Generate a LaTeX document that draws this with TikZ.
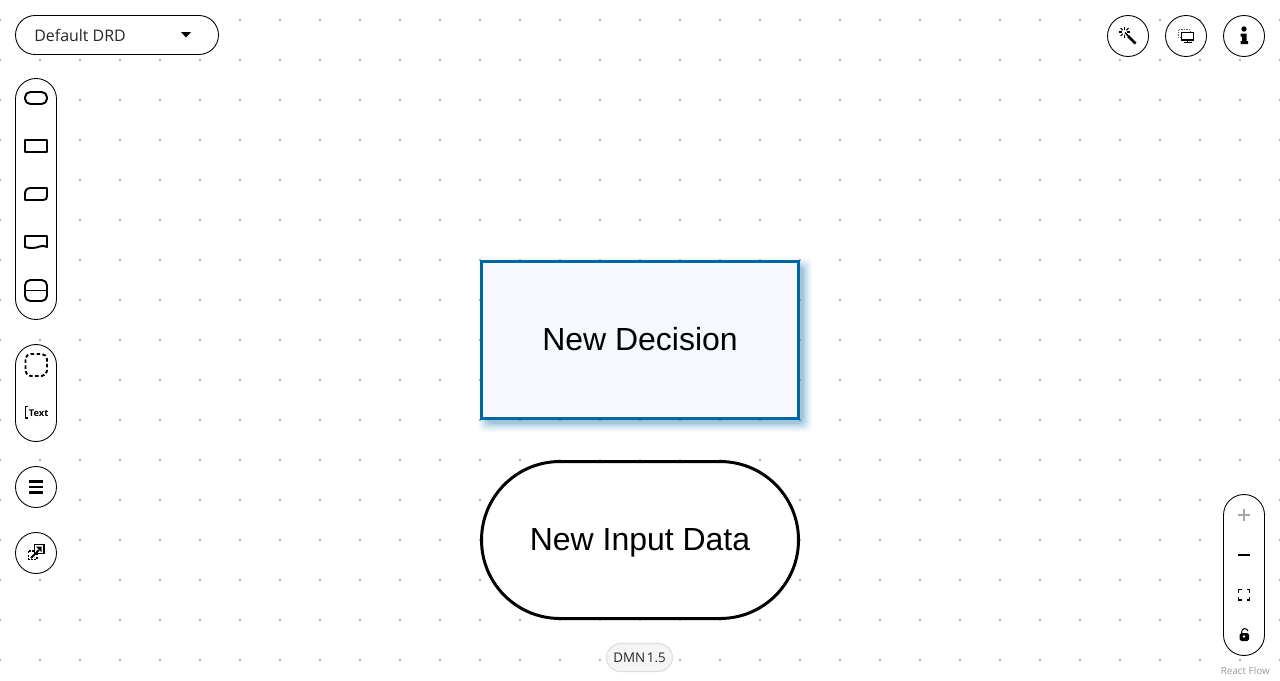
\documentclass[tikz,border=0pt]{standalone}
\usepackage{fontspec}
\setmainfont{Liberation Sans}
\newfontfamily\uifont{Open Sans}
\definecolor{griddot}{HTML}{A0A0A0}
\definecolor{decisionblue}{HTML}{0066A1}
\definecolor{decisionfill}{HTML}{F5F8FC}
\definecolor{pillline}{HTML}{DDDDDD}
\definecolor{pillfill}{HTML}{F5F5F5}
\def\pxu{0.02cm}
\tikzset{
    panel/.style={draw=black,line width=0.5pt,fill=white,inner sep=0pt,rounded corners=0.41cm},
    roundbtn/.style={draw=black,line width=0.5pt,fill=white,circle,inner sep=0pt,minimum size=41*\pxu},
    diagramnode/.style={line width=1.7pt,inner sep=0pt,minimum width=317*\pxu,minimum height=157*\pxu,text height=13.2pt,text depth=1pt,font=\fontsize{18.2}{22}\selectfont},
    glyph/.style={line width=1.1pt,line join=round},
}
\begin{document}
\begin{tikzpicture}[x=0.02cm,y=-0.02cm]
    \useasboundingbox (0,0) rectangle (1280,680);
    \fill[white] (0,0) rectangle (1280,680);
    \foreach \xdot in {0,40,...,1280}
        \foreach \ydot in {20,60,...,660}
            \fill[griddot] (\xdot,\ydot) circle (1.1);

    \foreach \grow/\fade in {8/0.04,6/0.06,4/0.08,2/0.10,0/0.14}
        \fill[decisionblue,opacity=\fade,rounded corners=3pt] (486-\grow,266-\grow) rectangle (804+\grow,424+\grow);
    \node[diagramnode,draw=decisionblue,fill=decisionfill] (decision) at (640,340) {New Decision};
    \node[diagramnode,draw=black,fill=white,rounded corners=1.57cm] (inputdata) at (640,540) {New Input Data};

    \node[panel,minimum width=203*\pxu,minimum height=39*\pxu,rounded corners=0.39cm] (drdselect) at (117,35) {};
    \node[anchor=west,font=\uifont\fontsize{9.07}{11}\selectfont,text=black!85,inner sep=0pt] (drdname) at (34,35) {Default DRD};
    \fill (181,32) -- (191,32) -- (186,37.5) -- cycle;

    \node[panel,minimum width=41*\pxu,minimum height=241*\pxu] (shapetools) at (36,199) {};
    \draw[glyph,rounded corners=3pt] (25,92) rectangle (47,104);
    \draw[glyph] (25,140) rectangle (47,152);
    \draw[glyph] (25,200) -- (25,194) .. controls (25,190) and (27,188) .. (31,188) -- (47,188) -- (47,196) .. controls (47,199) and (46,200) .. (43,200) -- cycle;
    \draw[glyph] (25,236) -- (47,236) -- (47,247) .. controls (42,244) and (38,248) .. (33,248) .. controls (30,248) and (28,248) .. (25,247) -- cycle;
    \draw[glyph,rounded corners=3pt] (25,280) rectangle (47,301);
    \draw[glyph] (25,290.5) -- (47,290.5);

    \node[panel,minimum width=41*\pxu,minimum height=97*\pxu] (grouptools) at (36,393) {};
    \draw[glyph,dashed,dash pattern=on 2pt off 1.4pt,rounded corners=3pt] (25.5,354) rectangle (47,376);
    \draw[line width=0.9pt] (28,406.5) -- (25.5,406.5) -- (25.5,418) -- (28,418);
    \node[anchor=west,inner sep=0pt,font=\uifont\fontsize{5.3}{6}\selectfont] (textlabel) at (28.5,413) {\textbf{Text}};

    \node[roundbtn] (menubtn) at (36,487) {};
    \foreach \ybar in {481.5,487,492.5}
        \draw[line width=1.5pt] (29,\ybar) -- (43,\ybar);

    \node[roundbtn] (sharebtn) at (36,553) {};
    \draw[line width=0.6pt,dash pattern=on 1.2pt off 0.8pt] (28.5,551) rectangle (37,559.5);
    \draw[line width=0.8pt,fill=white] (34.5,544.5) rectangle (44,553.5);
    \draw[line width=1.1pt] (31,558) -- (39,550);
    \fill (41.5,546.5) -- (41.5,552) -- (36,546.5) -- cycle;

    \node[roundbtn] (wandbtn) at (1128,36) {};
    \draw[line width=1.5pt] (1128,36) -- (1135.5,43.5);
    \draw[line width=0.8pt] (1125,32.5) -- (1128,36);
    \foreach \ray in {0,45,...,315}
        \draw[line width=0.6pt] (1124.5,32)++(\ray:2.5) -- ++(\ray:3);

    \node[roundbtn] (screenbtn) at (1186,36) {};
    \draw[griddot!60!black,line width=0.5pt,dash pattern=on 0.8pt off 0.6pt] (1178,29.5) rectangle (1190,37);
    \draw[line width=1.1pt,fill=white] (1181.5,32.5) rectangle (1193.5,40);
    \draw[line width=0.9pt] (1187.5,40) -- (1187.5,42) (1183.5,42.5) -- (1191.5,42.5);

    \node[roundbtn] (infobtn) at (1244,36) {};
    \fill (1244,29) circle (2.7);
    \fill (1240.5,33.5) -- (1246.5,33.5) -- (1246.5,41) -- (1248,41) -- (1248,44) -- (1240.5,44) -- (1240.5,41) -- (1242,41) -- (1242,36.5) -- (1240.5,36.5) -- cycle;

    \node[panel,minimum width=41*\pxu,minimum height=161*\pxu] (zoompanel) at (1244,575) {};
    \draw[black!35,line width=1.1pt] (1244,509) -- (1244,521) (1238,515) -- (1250,515);
    \draw[line width=1.1pt] (1238,555) -- (1250,555);
    \draw[line width=0.8pt] (1238.5,592.5) -- (1238.5,589.5) -- (1241.5,589.5) (1246.5,589.5) -- (1249.5,589.5) -- (1249.5,592.5) (1249.5,597) -- (1249.5,600) -- (1246.5,600) (1241.5,600) -- (1238.5,600) -- (1238.5,597);
    \draw[line width=0.6pt] (1241.5,633) .. controls (1241.5,628) and (1246,627) .. (1248,631);
    \fill[rounded corners=1pt] (1239.5,633) rectangle (1249,641);
    \fill[white] (1244,636.5) circle (1.3);

    \node[draw=pillline,fill=pillfill,line width=0.6pt,rounded corners=0.28cm,inner sep=0pt,minimum width=66*\pxu,minimum height=28*\pxu,font=\uifont\fontsize{7.6}{10}\selectfont,text=black!85] (dmnversion) at (639.5,657.5) {DMN\hspace{0.13em}1.5};
    \node[anchor=east,inner sep=0pt,text=black!40,font=\uifont\fontsize{5.6}{7}\selectfont] (reactflow) at (1270,671) {React Flow};
\end{tikzpicture}
\end{document}
